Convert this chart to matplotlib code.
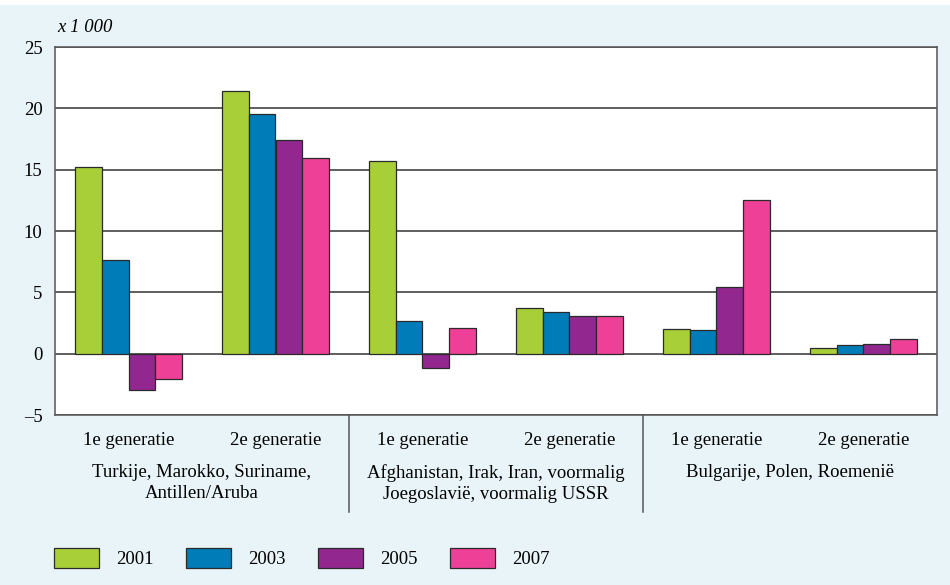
import matplotlib
matplotlib.use("Agg")
import matplotlib.pyplot as plt
import numpy as np
from matplotlib.patches import Rectangle

plt.rcParams['font.family'] = ['Liberation Serif', 'DejaVu Serif']

generations = ["1e generatie", "2e generatie"] * 3
region_labels = ["Turkije, Marokko, Suriname,\nAntillen/Aruba",
                 "Afghanistan, Irak, Iran, voormalig\nJoegoslavië, voormalig USSR",
                 "Bulgarije, Polen, Roemenië"]
years = ["2001", "2003", "2005", "2007"]
v2001 = [15.2, 21.4, 15.7, 3.75, 2.05, 0.5]
v2003 = [7.6, 19.55, 2.7, 3.4, 1.9, 0.7]
v2005 = [-3.0, 17.45, -1.2, 3.1, 5.4, 0.8]
v2007 = [-2.05, 15.95, 2.1, 3.05, 12.55, 1.2]
yticks = [-5, 0, 5, 10, 15, 20, 25]
unit_label = "x 1 000"

colors = ["#a8cf38", "#007db8", "#92278f", "#ef4097"]
bg = "#e8f4f7"
fs = 13.5

fig = plt.figure(figsize=(9.5, 5.85), dpi=100, facecolor=bg)
fig.add_artist(Rectangle((0, 1 - 5/585), 1, 5/585, transform=fig.transFigure,
                         facecolor="white", edgecolor="none"))
ax = fig.add_axes([55/950, 1 - 415/585, (937-55)/950, (415-47)/585])
ax.set_facecolor("white")

x = np.arange(len(generations))
w = 0.182
series = [v2001, v2003, v2005, v2007]
for i, (vals, c, lab) in enumerate(zip(series, colors, years)):
    ax.bar(x + (i - 1.5) * w, vals, width=w, color=c, edgecolor="#2a2a2a",
           linewidth=0.9, label=lab, zorder=3)

ax.set_xlim(-0.5, len(generations) - 0.5)
ax.set_ylim(-5, 25)
ax.set_yticks(yticks)
ax.set_yticklabels([str(t) if t >= 0 else "\u2013" + str(-t) for t in yticks], fontsize=fs)
for t in yticks:
    ax.axhline(t, color="#333333", linewidth=1.1, zorder=2)
ax.tick_params(axis="y", length=0, pad=9)
ax.set_xticks(x)
ax.set_xticklabels(generations, fontsize=fs)
ax.tick_params(axis="x", length=0, pad=12)
for s in ax.spines.values():
    s.set_color("#555555")
    s.set_linewidth(1.1)

trans = matplotlib.transforms.blended_transform_factory(ax.transData, ax.transAxes)
for sep in [1.5, 3.5]:
    ax.plot([sep, sep], [0, -97/368], transform=trans, color="#555555",
            linewidth=1.1, clip_on=False)
for j, lab in enumerate(region_labels):
    ax.text(2*j + 0.5, -49/368, lab, transform=trans, ha="center", va="top",
            fontsize=fs, linespacing=1.32)

ax.text(57/950, 1 - 27/585, unit_label, transform=fig.transFigure, fontsize=fs,
        style="italic", va="center", ha="left")

leg = fig.legend(loc="lower left", bbox_to_anchor=(37/950, 0.0), ncol=4,
                 frameon=False, fontsize=fs, handlelength=2.4, handleheight=1.25,
                 handletextpad=0.9, columnspacing=1.75)

fig.savefig("out.png", dpi=100, facecolor=bg)
